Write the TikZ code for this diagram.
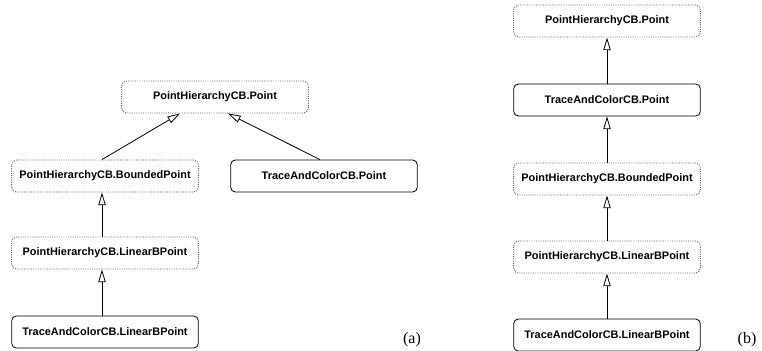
\documentclass[tikz,border=0pt]{standalone}
\usepackage{fontspec}
\setmainfont{Liberation Serif}
\setsansfont{Liberation Sans}
\usetikzlibrary{arrows.meta,calc}

\tikzset{
  classbox/.style={rounded corners=3.5pt, minimum width=140pt, minimum height=24pt,
    inner sep=0pt, font=\sffamily\bfseries\fontsize{8.2}{9.8}\selectfont},
  plainbox/.style={classbox, draw=black!65, dash pattern=on 0.7pt off 1pt, line width=0.7pt},
  realbox/.style={classbox, draw=black, line width=0.6pt},
  inherit/.style={-{Triangle[open, length=9.5pt, width=5.5pt]}, line width=0.6pt}
}

\begin{document}
\begin{tikzpicture}[x=0.75pt, y=-0.75pt]
        \useasboundingbox (0,0) rectangle (762,350);
        % (a)
        \node[plainbox] (pa) at (215,97) {PointHierarchyCB.Point};
        \node[plainbox] (bpa) at (105,176) {PointHierarchyCB.BoundedPoint};
        \node[realbox] (tpa) at (324,176) {TraceAndColorCB.Point};
        \node[plainbox] (lpa) at (105,253) {PointHierarchyCB.LinearBPoint};
        \node[realbox] (tla) at (105,332) {TraceAndColorCB.LinearBPoint};
        \draw[inherit] ($(bpa.north)+(-3,0)$) -- ($(pa.south)+(-35,0)$);
        \draw[inherit] ($(tpa.north)+(-4,0)$) -- ($(pa.south)+(13,0)$);
        \draw[inherit] ($(lpa.north)+(-3,0)$) -- ($(bpa.south)+(-3,0)$);
        \draw[inherit] ($(tla.north)+(-3,0)$) -- ($(lpa.south)+(-3,0)$);
        \node[font=\fontsize{12}{14}\selectfont] (la) at (412,340) {(a)};
        % (b)
        \node[plainbox] (pb) at (607,21) {PointHierarchyCB.Point};
        \node[realbox] (tpb) at (607,100) {TraceAndColorCB.Point};
        \node[plainbox] (bpb) at (607,179) {PointHierarchyCB.BoundedPoint};
        \node[plainbox] (lpb) at (607,257) {PointHierarchyCB.LinearBPoint};
        \node[realbox] (tlb) at (607,335) {TraceAndColorCB.LinearBPoint};
        \draw[inherit] (tpb) -- (pb);
        \draw[inherit] (bpb) -- (tpb);
        \draw[inherit] (lpb) -- (bpb);
        \draw[inherit] (tlb) -- (lpb);
        \node[font=\fontsize{12}{14}\selectfont] (lb) at (747,340) {(b)};
    \end{tikzpicture}
\end{document}
